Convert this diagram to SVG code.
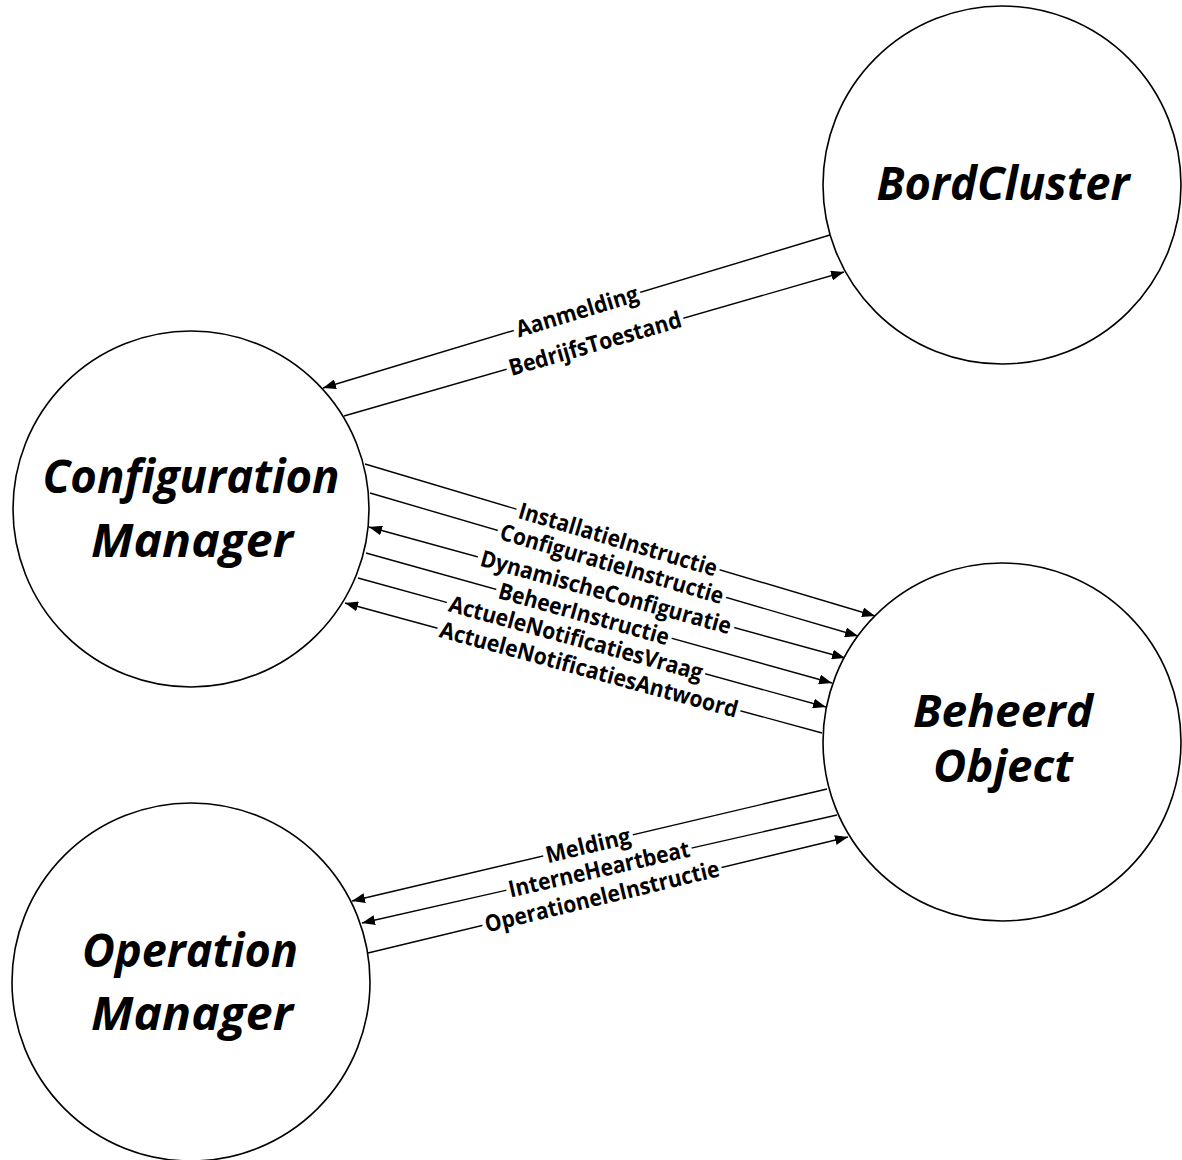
<svg xmlns="http://www.w3.org/2000/svg" width="1182" height="1160" viewBox="0 0 1182 1160">
<style>
.node circle{fill:#fff;stroke:#000;stroke-width:1.6}
.nt{font-family:"Open Sans","Noto Sans","Liberation Sans",sans-serif;font-weight:700;font-style:italic;font-size:46px;fill:#000;text-anchor:middle}
.nt2{font-size:44px}
.conn line{stroke:#000;stroke-width:1.4;fill:none}
.lb rect{fill:#fff}
.lb text{font-family:"Open Sans","Noto Sans","Liberation Sans",sans-serif;font-weight:700;font-size:23px;fill:#000;text-anchor:middle}
</style>
<defs>
<marker id="ah" markerWidth="13" markerHeight="10" refX="13" refY="5" orient="auto-start-reverse" markerUnits="userSpaceOnUse">
<path d="M0,0 L13,5 L0,10 z" fill="#000"/>
</marker>
</defs>
<rect width="1182" height="1160" fill="#fff"/>
<g id="connectors" class="conn">
<line x1="830" y1="235" x2="323" y2="388" marker-end="url(#ah)"/>
<line x1="344" y1="416" x2="844" y2="272" marker-end="url(#ah)"/>
<line x1="365" y1="464" x2="875" y2="616" marker-end="url(#ah)"/>
<line x1="370" y1="493" x2="858" y2="636" marker-end="url(#ah)"/>
<line x1="369" y1="527" x2="845" y2="658" marker-start="url(#ah)" marker-end="url(#ah)"/>
<line x1="366" y1="553" x2="832" y2="683" marker-end="url(#ah)"/>
<line x1="358" y1="578" x2="826" y2="707" marker-end="url(#ah)"/>
<line x1="822" y1="733" x2="345" y2="603" marker-end="url(#ah)"/>
<line x1="827" y1="789" x2="352" y2="901" marker-end="url(#ah)"/>
<line x1="837" y1="815" x2="362" y2="923" marker-end="url(#ah)"/>
<line x1="368" y1="953" x2="848" y2="837" marker-end="url(#ah)"/>
</g>
<g id="labels" class="lb">
<g transform="translate(577,311.4) rotate(-16.79)"><rect x="-66" y="-7" width="132" height="14"/></g>
<g transform="translate(595,343.6) rotate(-16.06)"><rect x="-92" y="-7" width="184" height="14"/></g>
<g transform="translate(618,539.4) rotate(16.6)"><rect x="-106" y="-7" width="212" height="14"/></g>
<g transform="translate(612,563.9) rotate(16.33)"><rect x="-119" y="-7" width="238" height="14"/></g>
<g transform="translate(606,592.2) rotate(15.38)"><rect x="-133" y="-7" width="266" height="14"/></g>
<g transform="translate(584,613.8) rotate(15.59)"><rect x="-91" y="-7" width="182" height="14"/></g>
<g transform="translate(576,638.1) rotate(15.41)"><rect x="-134" y="-7" width="268" height="14"/></g>
<g transform="translate(589,669.5) rotate(15.24)"><rect x="-157" y="-7" width="314" height="14"/></g>
<g transform="translate(588,845.4) rotate(-13.27)"><rect x="-46" y="-7" width="92" height="14"/></g>
<g transform="translate(599,869.1) rotate(-12.81)"><rect x="-95" y="-7" width="190" height="14"/></g>
<g transform="translate(602,896.4) rotate(-13.59)"><rect x="-123" y="-7" width="246" height="14"/></g>
<text transform="translate(577,311.4) rotate(-16.79)" dy="0.35em" textLength="126.6" lengthAdjust="spacingAndGlyphs">Aanmelding</text>
<text transform="translate(595,343.6) rotate(-16.06)" dy="0.35em" textLength="178.4" lengthAdjust="spacingAndGlyphs">BedrijfsToestand</text>
<text transform="translate(618,539.4) rotate(16.6)" dy="0.35em" textLength="206.1" lengthAdjust="spacingAndGlyphs">InstallatieInstructie</text>
<text transform="translate(612,563.9) rotate(16.33)" dy="0.35em" textLength="231.6" lengthAdjust="spacingAndGlyphs">ConfiguratieInstructie</text>
<text transform="translate(606,592.2) rotate(15.38)" dy="0.35em" textLength="259.1" lengthAdjust="spacingAndGlyphs">DynamischeConfiguratie</text>
<text transform="translate(584,613.8) rotate(15.59)" dy="0.35em" textLength="176" lengthAdjust="spacingAndGlyphs">BeheerInstructie</text>
<text transform="translate(576,638.1) rotate(15.41)" dy="0.35em" textLength="262.3" lengthAdjust="spacingAndGlyphs">ActueleNotificatiesVraag</text>
<text transform="translate(589,669.5) rotate(15.24)" dy="0.35em" textLength="308" lengthAdjust="spacingAndGlyphs">ActueleNotificatiesAntwoord</text>
<text transform="translate(588,845.4) rotate(-13.27)" dy="0.35em" textLength="86.6" lengthAdjust="spacingAndGlyphs">Melding</text>
<text transform="translate(599,869.1) rotate(-12.81)" dy="0.35em" textLength="185.1" lengthAdjust="spacingAndGlyphs">InterneHeartbeat</text>
<text transform="translate(602,896.4) rotate(-13.59)" dy="0.35em" textLength="240.4" lengthAdjust="spacingAndGlyphs">OperationeleInstructie</text>
</g>
<g id="node-bordcluster" class="node">
<circle cx="1002" cy="185" r="179"/>
<text class="nt" x="1003" y="200" textLength="253" lengthAdjust="spacingAndGlyphs">BordCluster</text>
</g>
<g id="node-configuration-manager" class="node">
<circle cx="191" cy="509" r="178"/>
<text class="nt" x="191" y="493" textLength="297" lengthAdjust="spacingAndGlyphs">Configuration</text>
<text class="nt" x="192" y="557" textLength="202" lengthAdjust="spacingAndGlyphs">Manager</text>
</g>
<g id="node-beheerd-object" class="node">
<circle cx="1002" cy="742" r="179"/>
<text class="nt nt2" x="1003" y="727" textLength="180" lengthAdjust="spacingAndGlyphs">Beheerd</text>
<text class="nt nt2" x="1003" y="782" textLength="140" lengthAdjust="spacingAndGlyphs">Object</text>
</g>
<g id="node-operation-manager" class="node">
<circle cx="191" cy="982" r="179"/>
<text class="nt" x="190" y="967" textLength="216" lengthAdjust="spacingAndGlyphs">Operation</text>
<text class="nt" x="192" y="1030" textLength="202" lengthAdjust="spacingAndGlyphs">Manager</text>
</g>
</svg>
